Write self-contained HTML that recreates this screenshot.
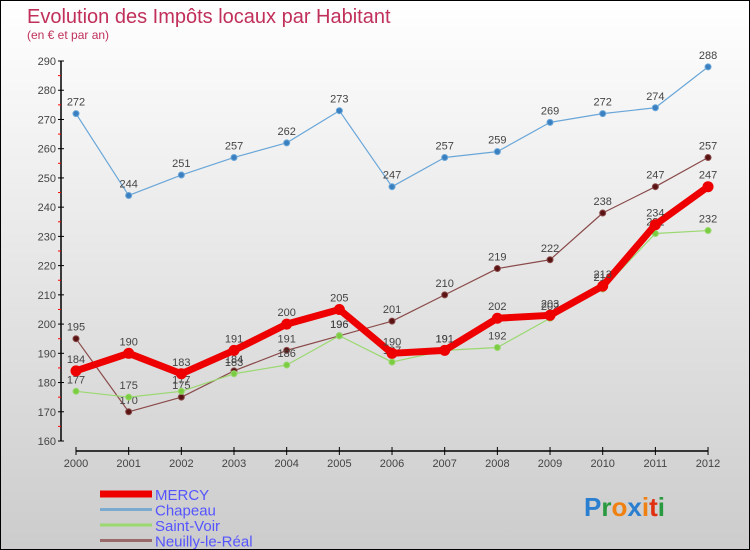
<!DOCTYPE html>
<html><head><meta charset="utf-8"><style>
body{margin:0;}
#c{width:748px;height:548px;border:1px solid #000;background:linear-gradient(#fff,#ccc);position:relative;font-family:"Liberation Sans",sans-serif;overflow:hidden}
</style></head><body>
<div id="c">
<svg id="s" width="748" height="548">
<text x="26" y="22" font-size="20" fill="#c0305a">Evolution des Impôts locaux par Habitant</text>
<text x="26" y="38" font-size="12" fill="#c0305a">(en € et par an)</text>
</svg>
</div>
<script>
const years=[2000,2001,2002,2003,2004,2005,2006,2007,2008,2009,2010,2011,2012];
const yTicks=[160,170,180,190,200,210,220,230,240,250,260,270,280,290];
const mercy=[184,190,183,191,200,205,190,191,202,203,213,234,247];
const chapeau=[272,244,251,257,262,273,247,257,259,269,272,274,288];
const saintVoir=[177,175,177,183,186,196,187,191,192,202,212,231,232];
const neuilly=[195,170,175,184,191,196,201,210,219,222,238,247,257];
const svg=document.getElementById('s');const NS='http://www.w3.org/2000/svg';
function X(i){return 75+i*52.67;}
function Y(v){return 440-(v-160)*2.923;}
function mk(t,a,p){const e=document.createElementNS(NS,t);for(const k in a)e.setAttribute(k,a[k]);(p||svg).appendChild(e);return e;}
let e;
e=mk('line',{x1:60,y1:Y(290),x2:60,y2:440,stroke:'#000','stroke-width':1.5});


yTicks.forEach(v=>{
  mk('line',{x1:57,x2:63,y1:Y(v),y2:Y(v),stroke:'#000'});
  if(v<290)mk('line',{x1:57,x2:60,y1:Y(v+5),y2:Y(v+5),stroke:'red'});
  const t=mk('text',{x:55,y:Y(v)+4,'text-anchor':'end','font-size':11,fill:'#444'});t.textContent=v;
  
  
});
e=mk('line',{x1:75,y1:450,x2:707,y2:450,stroke:'#000','stroke-width':1.5});


years.forEach((y,i)=>{
  mk('line',{x1:X(i),x2:X(i),y1:446,y2:454,stroke:'#000'});
  const t=mk('text',{x:X(i),y:466,'text-anchor':'middle','font-size':11,fill:'#444'});t.textContent=y;
  
  
});
function series(d,col,dot,w,r,name){
  const g=mk('g',{});
  
  
  mk('polyline',{points:d.map((v,i)=>X(i)+','+Y(v)).join(' '),fill:'none',stroke:col,'stroke-width':w,'stroke-linejoin':'round'},g);
  d.forEach((v,i)=>{
    const c=mk('circle',{cx:X(i),cy:Y(v),r:r,fill:dot,stroke:col,'stroke-width':1},g);
    
    
    const t=mk('text',{x:X(i),y:Y(v)-8,'text-anchor':'middle','font-size':11,fill:'#444'},g);t.textContent=v;
    
    
  });
}
series(chapeau,'#6aa6d8','#3a7fc0',1.2,3,'chapeau');
series(neuilly,'#8a4a4a','#5a1414',1.2,3,'neuilly');
series(saintVoir,'#9ad870','#7acc40',1.2,3,'saint-voir');
series(mercy,'#ee0000','#ee0000',7,5,'mercy');
const leg=[['MERCY','#ee0000',7],['Chapeau','#7aaad0',3],['Saint-Voir','#9ad870',3],['Neuilly-le-Réal','#9a6a6a',3]];
leg.forEach((l,i)=>{
  const y=493+i*15.5;
  const g=mk('g',{});
  
  
  mk('line',{x1:99,x2:151,y1:y,y2:y,stroke:l[1],'stroke-width':l[2]},g);
  const t=mk('text',{x:154,y:y+6,'font-size':15,fill:'#5555ff'},g);t.textContent=l[0];
});
const lg=mk('text',{x:583,y:515,'font-size':26,'font-weight':'bold'});


[['P','#2a7fd0'],['r','#2a9a40'],['o','#f08010'],['x','#2a7fd0'],['i','#f08010'],['t','#e03010'],['i','#2a9a40']].forEach(p=>{const s=mk('tspan',{fill:p[1]},lg);s.textContent=p[0];});
</script>
</body></html>
